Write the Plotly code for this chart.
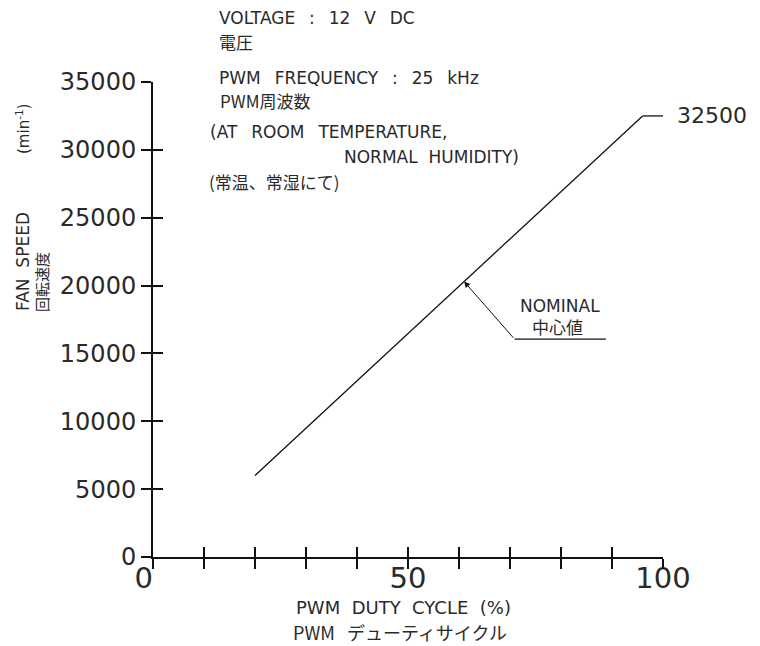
import numpy as np
import plotly.graph_objects as go

# ---- data ----
duty = [20, 96]                 # PWM duty cycle (%)
speed = [6000, 32500]           # fan speed (min^-1)
x_tick_vals = [0, 10, 20, 30, 40, 50, 60, 70, 80, 90, 100]
x_tick_text = ["0\u00a0\u00a0", "", "", "", "", "50", "", "", "", "", "100"]
y_tick_vals = [0, 5000, 10000, 15000, 20000, 25000, 30000, 35000]
y_tick_text = ["0", "5000", "10000", "15000", "20000", "25000", "30000", "35000"]
nominal_duty = 61

FONT = "DejaVu Sans"
JP = "Noto Sans CJK JP"
TXT = "#2a2a2a"
LC = "#111111"

# page body has an 8px margin -> figure is 8px smaller and offset
OFF = 8
W, H = 760 - OFF, 646 - OFF
X0, X100 = 153, 663          # screen pixels of x = 0 / 100
Y0, Y35 = 557, 82            # screen pixels of y = 0 / 35000
L, T = X0 - OFF, Y35 - OFF
R, B = W - (X100 - OFF), H - (Y0 - OFF)
pw, ph = X100 - X0, Y0 - Y35


def px(xp):
    return (xp - X0) / pw


def py(yp):
    return (Y0 - yp) / ph


fig = go.Figure()
fig.add_trace(go.Scatter(x=duty, y=speed, mode="lines",
                         line=dict(color=LC, width=1.3), hoverinfo="skip",
                         showlegend=False))
# invisible trace on overlay axes (for crossing ticks)
fig.add_trace(go.Scatter(x=[0], y=[0], xaxis="x2", yaxis="y2", mode="markers",
                         marker=dict(opacity=0), showlegend=False, hoverinfo="skip"))

axis_common = dict(showgrid=False, zeroline=False, showline=True, linecolor=LC,
                   linewidth=2, tickcolor=LC, tickwidth=1.5, ticklen=10)

fig.update_layout(
    width=W, height=H,
    margin=dict(l=L, r=R, t=T, b=B, pad=0),
    paper_bgcolor="white", plot_bgcolor="white",
    xaxis=dict(range=[0, 100], tickmode="array", tickvals=x_tick_vals,
               ticktext=x_tick_text, ticks="inside", ticklabelstandoff=-6,
               tickfont=dict(family=FONT, size=29, color=TXT),
               **axis_common),
    yaxis=dict(range=[0, 35000], tickmode="array", tickvals=y_tick_vals,
               ticktext=y_tick_text, ticks="outside",
               tickfont=dict(family=FONT, size=24, color=TXT),
               **axis_common),
    xaxis2=dict(range=[0, 100], overlaying="x", anchor="y2", tickmode="array",
                tickvals=x_tick_vals, ticks="outside", showticklabels=False,
                **axis_common),
    yaxis2=dict(range=[0, 35000], overlaying="y", anchor="x2", tickmode="array",
                tickvals=y_tick_vals, ticks="inside", showticklabels=False,
                **axis_common),
    showlegend=False,
)

# leader to the end value
fig.add_shape(type="line", xref="x", yref="y", x0=duty[-1], y0=speed[-1],
              x1=100, y1=speed[-1], line=dict(color=LC, width=1.3))
fig.add_annotation(xref="x", yref="y", x=100, y=speed[-1], text=f"{speed[-1]}",
                   showarrow=False, xanchor="left", yanchor="middle", xshift=12,
                   font=dict(family=FONT, size=22, color=TXT))

# nominal arrow
nom_speed = float(np.interp(nominal_duty, duty, speed))
tail_x, tail_y = 70.9, 16050
fig.add_annotation(xref="x", yref="y", x=nominal_duty, y=nom_speed,
                   axref="x", ayref="y", ax=tail_x, ay=tail_y, text="",
                   showarrow=True, arrowhead=2, arrowsize=1.2, arrowwidth=1,
                   arrowcolor=LC)
fig.add_shape(type="line", xref="x", yref="y", x0=tail_x, y0=tail_y,
              x1=88.8, y1=tail_y, line=dict(color=LC, width=1.2))
fig.add_annotation(xref="paper", yref="paper", x=px(560), y=py(306), text="NOMINAL",
                   showarrow=False, xanchor="center", yanchor="middle",
                   font=dict(family=FONT, size=17, color=TXT))
fig.add_annotation(xref="paper", yref="paper", x=px(557), y=py(326), text="中心値",
                   showarrow=False, xanchor="center", yanchor="middle",
                   font=dict(family=JP, size=17, color=TXT))

NB = "\u00a0"
G = "\u2002\u00a0"   # wide gap as in the drawing
top_texts = [
    (f"VOLTAGE{G}:{G}12{G}V{G}DC", 217, 18, FONT),
    ("電圧", 217, 42, JP),
    (f"PWM{G}FREQUENCY{G}:{G}25{G}kHz", 217, 78, FONT),
    ("PWM周波数", 218, 100, JP),
    (f"(AT{G}ROOM{G}TEMPERATURE,", 208, 132, FONT),
    (f"NORMAL{NB} HUMIDITY)", 342, 157, FONT),
    ("(常温、常湿にて)", 207, 181, JP),
]
for t, xp, yp, fam in top_texts:
    fig.add_annotation(xref="paper", yref="paper", x=px(xp), y=py(yp), text=t,
                       showarrow=False, xanchor="left", yanchor="middle",
                       font=dict(family=fam, size=17, color=TXT))

# axis titles
fig.add_annotation(xref="paper", yref="paper", x=px(403), y=py(607),
                   text=f"PWM{NB} DUTY{NB} CYCLE{NB} (%)", showarrow=False,
                   xanchor="center", yanchor="middle",
                   font=dict(family=FONT, size=18, color=TXT))
fig.add_annotation(xref="paper", yref="paper", x=px(400), y=py(632),
                   text=f"PWM{NB}{NB}{NB}デューティサイクル", showarrow=False,
                   xanchor="center", yanchor="middle",
                   font=dict(family=JP, size=18, color=TXT))
fig.add_annotation(xref="paper", yref="paper", x=px(23), y=py(262),
                   text=f"FAN{NB} SPEED", showarrow=False, textangle=-90,
                   xanchor="center", yanchor="middle",
                   font=dict(family=FONT, size=17, color=TXT))
fig.add_annotation(xref="paper", yref="paper", x=px(41), y=py(282),
                   text="回転速度", showarrow=False, textangle=-90,
                   xanchor="center", yanchor="middle",
                   font=dict(family=JP, size=15, color=TXT))
fig.add_annotation(xref="paper", yref="paper", x=px(23), y=py(129),
                   text="(min<sup>-1</sup>)", showarrow=False, textangle=-90,
                   xanchor="center", yanchor="middle",
                   font=dict(family=FONT, size=15, color=TXT))

fig.write_html("out.html")
